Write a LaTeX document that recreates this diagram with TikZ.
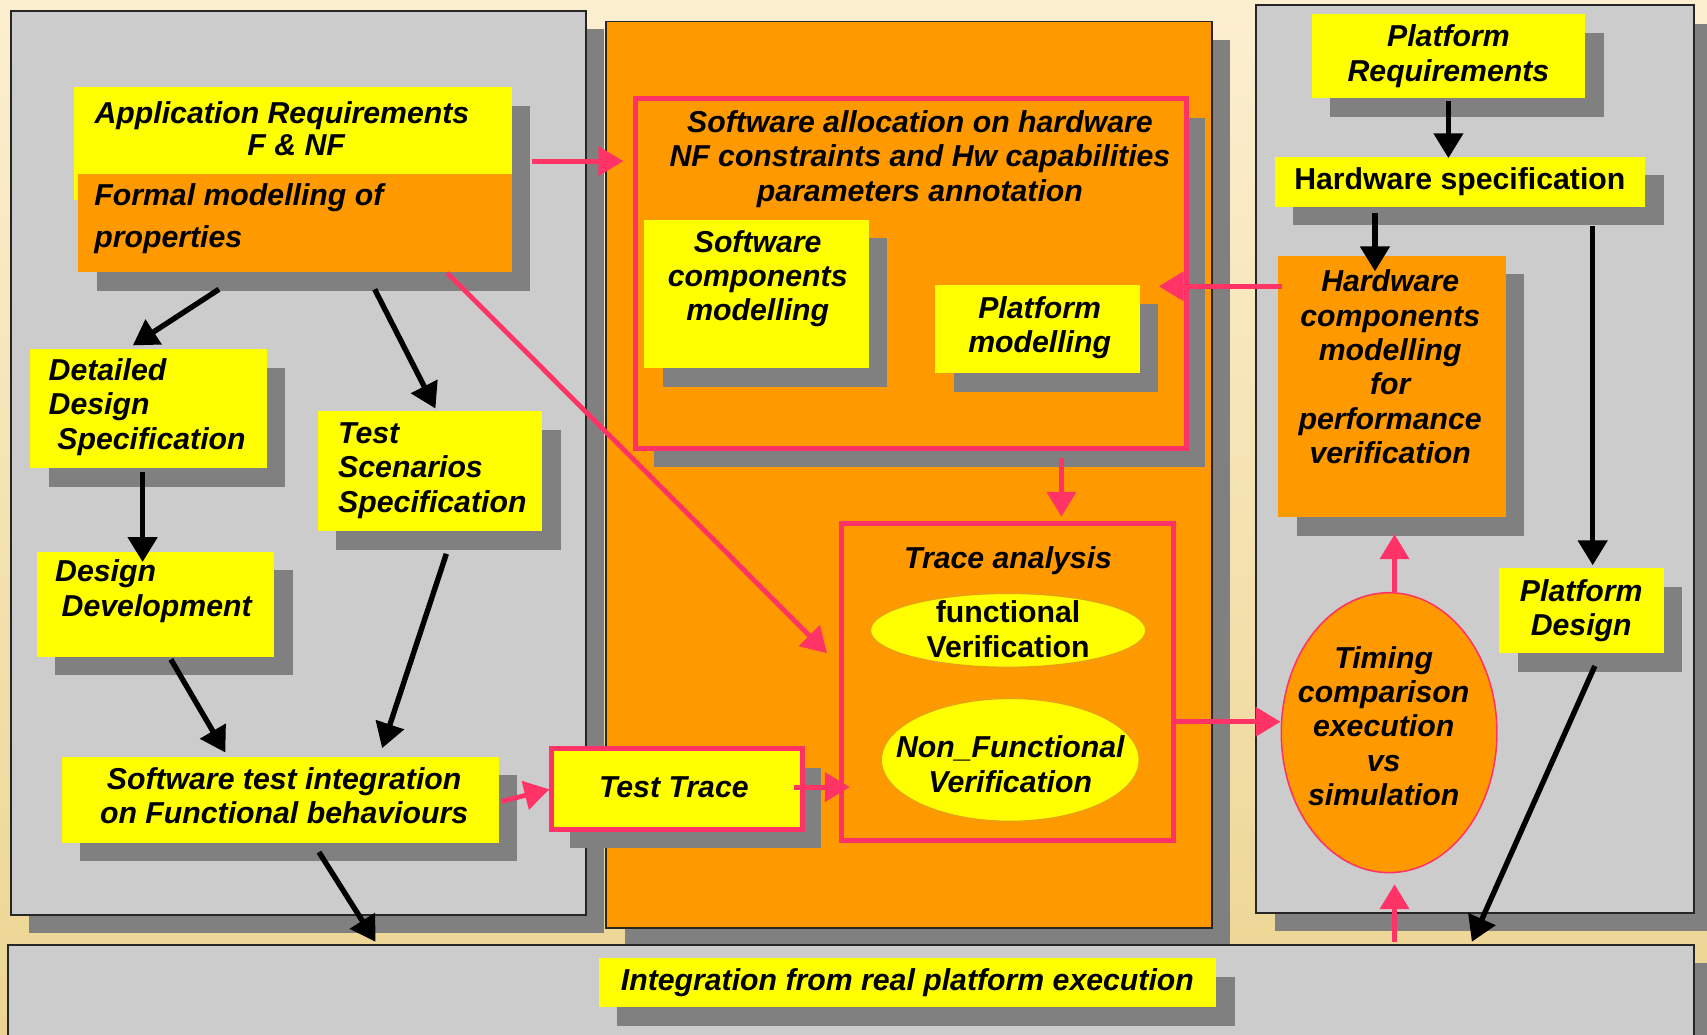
\documentclass[tikz,border=0pt]{standalone}
\usepackage{fontspec}
\setmainfont{Liberation Sans}
\usetikzlibrary{shadows,arrows.meta,calc,shapes.geometric}

\definecolor{bgtop}{RGB}{252,239,208}
\definecolor{bgbottom}{RGB}{236,213,146}
\definecolor{panelgray}{RGB}{204,204,204}
\definecolor{shgray}{RGB}{128,128,128}
\definecolor{orng}{RGB}{255,153,0}
\definecolor{yel}{RGB}{255,255,0}
\definecolor{pnk}{RGB}{255,51,102}
\definecolor{ellrim}{RGB}{235,160,20}

\tikzset{
  lbl/.style={font=\bfseries\itshape\fontsize{7.9}{9}\selectfont, inner sep=0pt, align=center},
  lblup/.style={lbl, font=\bfseries\fontsize{7.9}{9}\selectfont},
  shade box/.style={drop shadow={shadow xshift=0.17cm, shadow yshift=-0.17cm, fill=shgray, opacity=1}},
  panel/.style={rectangle, draw=black!85, line width=0.5pt, fill=panelgray, inner sep=0pt, shade box},
  ybox/.style={rectangle, fill=yel, inner sep=0pt, shade box},
  obox/.style={rectangle, fill=orng, inner sep=0pt, shade box},
  pbox/.style={rectangle, draw=pnk, line width=1.3pt, inner sep=0pt},
  oval/.style={ellipse, inner sep=0pt, line width=0.4pt},
  blackarrow/.style={draw=black, line width=1.4pt, -{Triangle[length=6.5pt,width=7.5pt]}},
  pinkarrow/.style={draw=pnk, line width=1.25pt, -{Triangle[length=6.5pt,width=7.5pt]}},
}

\begin{document}
\begin{tikzpicture}[x=0.01cm, y=-0.01cm]
\useasboundingbox (0,0) rectangle (1568,950);
\clip (0,0) rectangle (1568,950);
\shade[top color=bgtop, bottom color=bgbottom] (0,0) rectangle (1568,950);

% the four panels
\node[panel, minimum width=5.28cm, minimum height=8.30cm] (leftp) at (274,425) {};
\node[panel, fill=orng, minimum width=5.56cm, minimum height=8.32cm] (midp) at (835,436) {};
\node[panel, minimum width=4.02cm, minimum height=8.33cm] (rightp) at (1355,421.5) {};
\node[panel, minimum width=15.48cm, minimum height=1.12cm] (botp) at (782,924) {};

% software side
\node[ybox, minimum width=4.02cm, minimum height=1.04cm] (appreq) at (269,132) {};
\node[obox, minimum width=3.98cm, minimum height=0.90cm] (formal) at (271,205) {};
\node[lbl, font=\bfseries\itshape\fontsize{7.9}{8.5}\selectfont] (appreq-t) at (259,118)
  {Application Requirements\\\hspace*{0.26cm}F \& NF};
\node[lbl, align=left, anchor=west, font=\bfseries\itshape\fontsize{7.9}{11}\selectfont] (formal-t) at (86,201)
  {Formal modelling of\\properties};

\node[ybox, minimum width=2.17cm, minimum height=1.09cm] (detailed) at (136.5,375.5) {};
\node[lbl, align=left, anchor=west] (detailed-t) at (44,374)
  {Detailed\\Design\\\hspace*{0.08cm}Specification};

\node[ybox, minimum width=2.06cm, minimum height=1.10cm] (testsc) at (395,433) {};
\node[lbl, align=left, anchor=west] (testsc-t) at (310,432)
  {Test\\Scenarios\\Specification};

\node[ybox, minimum width=2.18cm, minimum height=0.96cm] (designdev) at (143,555) {};
\node[lbl, align=left, anchor=west] (designdev-t) at (50,543)
  {Design\\\hspace*{0.06cm}Development};

\node[ybox, minimum width=4.01cm, minimum height=0.79cm] (swti) at (257.5,734.5) {};
\node[lbl] (swti-t) at (261,731)
  {Software test integration\\on Functional behaviours};

% modelling and analysis
\node[pbox, fill=orng, shade box, minimum width=5.06cm, minimum height=3.21cm] (swalloc) at (837,251.5) {};
\node[lbl] (swalloc-t) at (845,146)
  {Software allocation on hardware\\NF constraints and Hw capabilities\\parameters annotation};

\node[ybox, minimum width=2.06cm, minimum height=1.36cm] (swcomp) at (695,270) {};
\node[lbl] (swcomp-t) at (696,256) {Software\\components\\modelling};

\node[ybox, minimum width=1.88cm, minimum height=0.81cm] (platmod) at (953,302.5) {};
\node[lbl] (platmod-t) at (955,301) {Platform\\modelling};

\node[pbox, fill=orng, minimum width=3.05cm, minimum height=2.91cm] (trace) at (925.5,626.5) {};
\node[lbl] (trace-t) at (926,515) {Trace analysis};
\node[oval, fill=yel, draw=ellrim, minimum width=2.53cm, minimum height=0.68cm] (funcv) at (926,579) {};
\node[lblup] (funcv-t) at (926,578) {functional\\Verification};
\node[oval, fill=yel, draw=ellrim, minimum width=2.37cm, minimum height=1.13cm] (nfv) at (928,698) {};
\node[lbl] (nfv-t) at (928,702) {Non\_Functional\\Verification};

\node[pbox, fill=yel, shade box, minimum width=2.30cm, minimum height=0.74cm] (testtrace) at (622,725) {};
\node[lbl] (testtrace-t) at (619,723) {Test Trace};

% platform side
\node[ybox, lbl, minimum width=2.51cm, minimum height=0.77cm] (platreq) at (1330.5,51.5) {Platform\\Requirements};
\node[ybox, lblup, minimum width=3.40cm, minimum height=0.46cm] (hwspec) at (1341,167) {Hardware specification};
\node[obox, minimum width=2.09cm, minimum height=2.40cm] (hwcomp) at (1278.5,355) {};
\node[lbl] (hwcomp-t) at (1277,337)
  {Hardware\\components\\modelling\\for\\performance\\verification};
\node[oval, fill=orng, draw=pnk, minimum width=1.98cm, minimum height=2.57cm] (timing) at (1276,673) {};
\node[lbl] (timing-t) at (1271,667) {Timing\\comparison\\execution\\vs\\simulation};
\node[ybox, lbl, minimum width=1.51cm, minimum height=0.78cm] (platdes) at (1452.5,561) {Platform\\Design};

% integration bar
\node[ybox, lbl, minimum width=5.67cm, minimum height=0.45cm] (integ) at (833.5,902.5) {Integration from real platform execution};

% black flow
\draw[blackarrow] ($(formal.south west)+(130,15)$) -- ($(detailed.north)+(-14.5,-3)$);
\draw[blackarrow] ($(formal.south west)+(273,15)$) -- ($(testsc.north)+(5,-2)$);
\draw[blackarrow] ($(detailed.south)+(-5.5,3)$) -- ($(designdev.north)+(-12,10)$);
\draw[blackarrow] ($(designdev.south)+(14,2)$) -- ($(swti.north)+(-50.5,-3)$);
\draw[blackarrow] ($(testsc.south)+(15,20)$) -- ($(swti.north)+(93.5,-7)$);
\draw[blackarrow] ($(swti.south)+(35.5,8)$) -- ($(botp.north)+(-437,-2)$);
\draw[blackarrow] ($(platreq.south)+(0,2)$) -- ($(hwspec.north)+(-10.5,2)$);
\draw[blackarrow] ($(hwspec.south)+(-78,5)$) -- ($(hwcomp.north)+(-15.5,15)$);
\draw[blackarrow] ($(hwspec.south)+(122,17)$) -- ($(platdes.north)+(10.5,-2)$);
\draw[blackarrow] ($(platdes.south)+(12.5,11)$) -- ($(botp.north)+(570,-2)$);

% pink flow
\coordinate (p11) at ($(appreq.east)+(18,16)$);
\coordinate (p15) at ($(swalloc.south)+(138,6)$);
\coordinate (p16) at ($(hwcomp.west)+(4,-92)$);
\coordinate (p17) at ($(trace.east)+(0,36.5)$);
\coordinate (p18) at ($(timing.north)+(5,0)$);
\draw[pinkarrow] (p11) -- ($(p11 -| swalloc.west)+(-9,0)$);
\draw[pinkarrow] ($(formal.south east)+(-60,0)$) -- ($(trace.west)+(-11,-26.5)$);
\draw[pinkarrow] ($(swti.east)+(2,1.5)$) -- (testtrace.west);
\draw[pinkarrow] ($(testtrace.east)+(-10,-2)$) -- ($(trace.west |- testtrace.east)+(10,-2)$);
\draw[pinkarrow] (p15) -- ($(p15 |- trace.north)+(0,-4)$);
\draw[pinkarrow] (p16) -- ($(p16 -| swalloc.east)+(-28,0)$);
\draw[pinkarrow] (p17) -- (p17 -| timing.west);
\draw[pinkarrow] (p18) -- ($(p18 |- hwcomp.south)+(0,15)$);
\draw[pinkarrow] ($(timing.south |- botp.north)+(5,-2)$) -- ($(timing.south)+(5,10)$);
\end{tikzpicture}
\end{document}
